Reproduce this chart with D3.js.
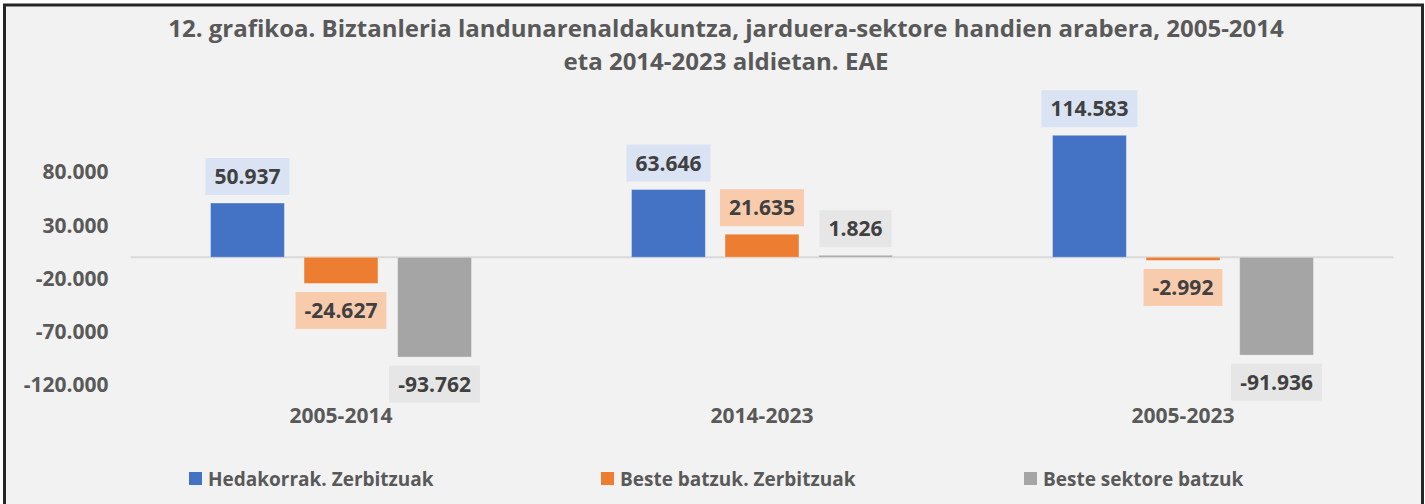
<!DOCTYPE html>
<html>
<head>
<meta charset="utf-8">
<script src="https://cdn.jsdelivr.net/npm/d3@7"></script>
<style>
  html, body { margin: 0; padding: 0; background: #ffffff; }
  svg { display: block; font-family: "Open Sans", "Noto Sans", sans-serif; }
</style>
</head>
<body>
<figure id="bar-chart" style="margin:0"></figure>
<script>
// chart data
const titleLines = [
  "12. grafikoa. Biztanleria landunarenaldakuntza, jarduera-sektore handien arabera, 2005-2014",
  "eta 2014-2023 aldietan. EAE"
];
const periods = ["2005-2014", "2014-2023", "2005-2023"];
const seriesNames = ["Hedakorrak. Zerbitzuak", "Beste batzuk. Zerbitzuak", "Beste sektore batzuk"];
const hedakorrak = [50937, 63646, 114583];
const besteZerbitzuak = [-24627, 21635, -2992];
const besteSektoreak = [-93762, 1826, -91936];
const yTicks = [-120000, -70000, -20000, 30000, 80000];

const colors = ["#4472c4", "#ed7d31", "#a5a5a5"];
const labelFills = ["#dae3f3", "#f8cbad", "#e7e6e6"];

const width = 1425, height = 504;
const plot = { left: 130.5, right: 1393.5, top: 129.5, bottom: 385 };

const fmt = d3.formatLocale({ decimal: ",", thousands: ".", grouping: [3], currency: ["", ""], minus: "-" }).format(",d");

const seriesValues = [hedakorrak, besteZerbitzuak, besteSektoreak];
const rows = [];
periods.forEach((p, i) => {
  seriesNames.forEach((s, j) => rows.push({ period: p, series: s, idx: j, value: seriesValues[j][i] }));
});

const svg = d3.select("figure#bar-chart")
  .append("svg")
  .attr("width", width)
  .attr("height", height);

// chart background + frame
svg.append("rect")
  .attr("x", 4.5).attr("y", 5)
  .attr("width", 1418).attr("height", 540)
  .attr("fill", "#f2f2f2")
  .attr("stroke", "#262626")
  .attr("stroke-width", 3);

// title
svg.append("g").selectAll("text")
  .data(titleLines)
  .enter().append("text")
  .attr("x", 726)
  .attr("y", (d, i) => 37 + i * 33)
  .attr("text-anchor", "middle")
  .attr("font-size", "24px")
  .attr("font-weight", "bold")
  .attr("fill", "#595959")
  .text(d => d);

// scales
const x = d3.scaleBand().domain(periods).range([plot.left, plot.right]);
const xs = d3.scaleBand().domain(seriesNames).range([0, x.bandwidth()])
  .paddingInner(0.21).paddingOuter(0.855);
const y = d3.scaleLinear().domain([-120000, 120000]).range([plot.bottom, plot.top]);

// y axis labels
const yAxis = svg.append("g")
  .attr("transform", "translate(" + (plot.left - 22) + ",0)")
  .call(d3.axisLeft(y).tickValues(yTicks).tickFormat(fmt).tickSize(0).tickPadding(0));
yAxis.select(".domain").remove();
yAxis.selectAll("text")
  .attr("font-family", "Open Sans")
  .attr("font-size", "21px")
  .attr("font-weight", "bold")
  .attr("fill", "#595959");

// zero line
svg.append("line")
  .attr("x1", plot.left).attr("x2", plot.right)
  .attr("y1", y(0)).attr("y2", y(0))
  .attr("stroke", "#d9d9d9")
  .attr("stroke-width", 2);

// category labels (axis at low position)
const xAxis = svg.append("g")
  .attr("transform", "translate(0," + (plot.bottom + 19) + ")")
  .call(d3.axisBottom(x).tickSize(0).tickPadding(0));
xAxis.select(".domain").remove();
xAxis.selectAll("text")
  .attr("dy", "0.9em")
  .attr("font-family", "Open Sans")
  .attr("font-size", "21px")
  .attr("font-weight", "bold")
  .attr("fill", "#595959");

// bars
svg.append("g").selectAll("rect")
  .data(rows)
  .enter().append("rect")
  .attr("x", d => x(d.period) + xs(d.series))
  .attr("y", d => y(Math.max(0, d.value)))
  .attr("width", xs.bandwidth())
  .attr("height", d => Math.abs(y(d.value) - y(0)))
  .attr("fill", d => colors[d.idx])
  .attr("stroke", "#ffffff")
  .attr("stroke-opacity", 0.35)
  .attr("stroke-width", 1);

// data labels with filled boxes
const labels = svg.append("g").selectAll("g")
  .data(rows)
  .enter().append("g")
  .attr("transform", d => {
    const cx = x(d.period) + xs(d.series) + xs.bandwidth() / 2;
    const cy = d.value >= 0 ? y(d.value) - 8 - 18.5 : y(d.value) + 8.5 + 18.5;
    return "translate(" + cx + "," + cy + ")";
  });

labels.append("text")
  .attr("text-anchor", "middle")
  .attr("dy", "0.36em")
  .attr("font-size", "21px")
  .attr("font-weight", "bold")
  .attr("fill", "#404040")
  .text(d => fmt(d.value));

labels.insert("rect", "text")
  .each(function (d) {
    const w = this.parentNode.querySelector("text").getComputedTextLength() + 18;
    d3.select(this)
      .attr("x", -w / 2).attr("y", -18.5)
      .attr("width", w).attr("height", 37)
      .attr("fill", labelFills[d.idx]);
  });

// legend
const legendX = [189, 601, 1024];
const legend = svg.append("g").selectAll("g")
  .data(seriesNames)
  .enter().append("g")
  .attr("transform", (d, i) => "translate(" + legendX[i] + ",472)");
legend.append("rect")
  .attr("width", 13).attr("height", 13)
  .attr("fill", (d, i) => colors[i]);
legend.append("text")
  .attr("x", 19).attr("y", 13.5)
  .attr("font-size", "19px")
  .attr("font-weight", "bold")
  .attr("fill", "#595959")
  .text(d => d);
</script>
</body>
</html>
